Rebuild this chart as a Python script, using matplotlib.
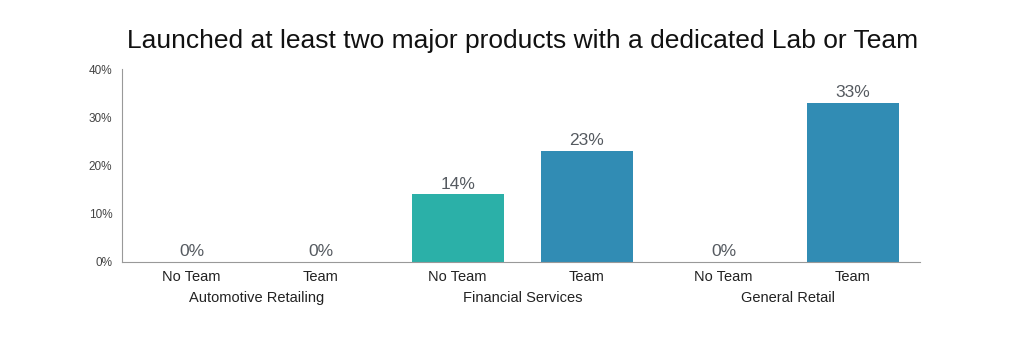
import matplotlib.pyplot as plt

plt.rcParams['font.family'] = ['Liberation Sans', 'DejaVu Sans']

groups = ["Automotive Retailing", "Financial Services", "General Retail"]
bar_labels = ["No Team", "Team", "No Team", "Team", "No Team", "Team"]
values = [0, 0, 14, 23, 0, 33]
y_ticks = [0, 10, 20, 30, 40]

teal = "#2bb0a8"
blue = "#318cb4"
colors = [teal if lab == "No Team" else blue for lab in bar_labels]

# two bars per group, a slightly wider gap between groups
positions = []
for g in range(len(groups)):
    positions += [g * 2.06, g * 2.06 + 1]

fig = plt.figure(figsize=(10.24, 3.45), dpi=100)
ax = fig.add_axes([0.1191, 0.2406, 0.7793, 0.5594])

ax.bar(positions, values, width=0.713, color=colors)
for x, v in zip(positions, values):
    ax.text(x, v + 0.6, f"{v}%", ha="center", va="bottom", fontsize=12.5, color="#555a60")

ax.set_xlim(positions[0] - 0.54, positions[-1] + 0.52)
ax.set_ylim(0, 40)
ax.set_yticks(y_ticks)
ax.set_yticklabels([f"{t}%" for t in y_ticks], fontsize=8.5, color="#444444")
ax.set_xticks(positions)
ax.set_xticklabels(bar_labels, fontsize=10.5, color="#222222")
ax.tick_params(length=0)
ax.tick_params(axis="y", pad=7)
ax.tick_params(axis="x", pad=6)

for g, name in enumerate(groups):
    ax.text((positions[2 * g] + positions[2 * g + 1]) / 2, -7.4, name,
            ha="center", va="center", fontsize=10.5, color="#222222")

for side in ["top", "right"]:
    ax.spines[side].set_visible(False)
ax.spines["left"].set_color("#999999")
ax.spines["bottom"].set_color("#999999")

fig.text(0.5107, 0.88, "Launched at least two major products with a dedicated Lab or Team",
         ha="center", va="center", fontsize=19, color="#111111")

fig.savefig("out.png", dpi=100, facecolor="white")
